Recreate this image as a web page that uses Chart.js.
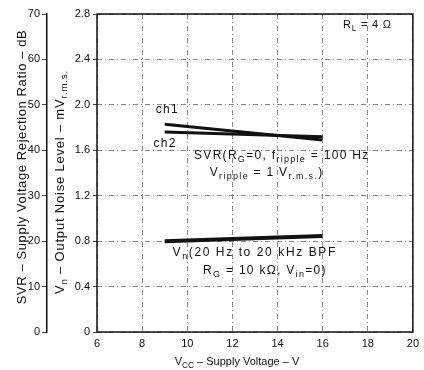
<!DOCTYPE html>
<html>
<head>
<meta charset="utf-8">
<script src="https://cdn.jsdelivr.net/npm/chart.js@4"></script>
<style>
  html, body { margin: 0; padding: 0; background: #fff; }
  #wrap { width: 424px; height: 370px; }
</style>
</head>
<body>
<div id="wrap"><canvas id="chart"></canvas></div>
<script>
// data
const vcc = [9, 16];
const ch1 = [1.83, 1.69];
const ch2 = [1.76, 1.72];
const noise = [0.80, 0.845];

const xTicks = [6, 8, 10, 12, 14, 16, 18, 20];
const noiseTicks = [0, 0.4, 0.8, 1.2, 1.6, 2.0, 2.4, 2.8];
const svrTicks = [0, 10, 20, 30, 40, 50, 60, 70];

const FONT = "'Liberation Sans', Arial, sans-serif";
const INK = "#111";

// text with subscripts: parts = [[text, isSub], ...]
function richWidth(ctx, parts, size) {
  let w = 0;
  parts.forEach(p => {
    ctx.font = (p[1] ? size * 0.75 : size) + "px " + FONT;
    w += ctx.measureText(p[0]).width;
  });
  return w;
}

function drawRich(ctx, parts, x, y, size, align, rot, ls) {
  ctx.save();
  ctx.translate(x, y);
  if (rot) ctx.rotate(rot);
  ctx.letterSpacing = (ls || 0) + "px";
  ctx.fillStyle = INK;
  ctx.textBaseline = "middle";
  ctx.textAlign = "left";
  let cx = 0;
  const w = richWidth(ctx, parts, size);
  if (align === "center") cx = -w / 2;
  parts.forEach(p => {
    const s = p[1] ? size * 0.75 : size;
    ctx.font = s + "px " + FONT;
    ctx.fillText(p[0], cx, p[1] ? size * 0.3 : 0);
    cx += ctx.measureText(p[0]).width;
  });
  ctx.restore();
}

const notes = {
  id: "notes",
  afterDraw(c) {
    const ctx = c.ctx;
    const a = c.chartArea;
    const x = c.scales.x;
    const y = c.scales.yn;

    // frame
    ctx.save();
    ctx.strokeStyle = INK;
    ctx.lineWidth = 1.5;
    ctx.strokeRect(a.left, a.top, a.right - a.left, a.bottom - a.top);
    ctx.restore();

    const at = (vx, vy) => [x.getPixelForValue(vx), y.getPixelForValue(vy)];
    const sz = 12, sp = 1.3;
    let p;
    p = at(8.6, 1.96);
    drawRich(ctx, [["ch1"]], p[0], p[1], sz, "left", 0, sp);
    p = at(8.5, 1.66);
    drawRich(ctx, [["ch2"]], p[0], p[1], sz, "left", 0, sp);
    p = at(10.3, 1.55);
    drawRich(ctx, [["SVR(R"], ["G", 1], ["=0, f"], ["ripple", 1], [" = 100 Hz"]], p[0], p[1], sz, "left", 0, sp);
    p = at(11.0, 1.40);
    drawRich(ctx, [["V"], ["ripple", 1], [" = 1 V"], ["r.m.s.", 1], [")"]], p[0], p[1], sz, "left", 0, sp);
    p = at(9.35, 0.70);
    drawRich(ctx, [["V"], ["n", 1], ["(20 Hz to 20 kHz BPF"]], p[0], p[1], sz, "left", 0, 1.6);
    p = at(10.7, 0.54);
    drawRich(ctx, [["R"], ["G", 1], [" = 10 k\u03a9, V"], ["in", 1], ["=0)"]], p[0], p[1], sz, "left", 0, sp);
    p = at(16.9, 2.70);
    drawRich(ctx, [["R"], ["L", 1], [" = 4 \u03a9"]], p[0], p[1], 11, "left", 0, 0.8);

    // axis titles
    drawRich(ctx, [["SVR \u2013 Supply Voltage Rejection Ratio \u2013 dB"]], 22, 167, 13, "center", -Math.PI / 2, 0.6);
    drawRich(ctx, [["V"], ["n", 1], [" \u2013 Output Noise Level \u2013 mV"], ["r.m.s.", 1]], 60, 182, 13, "center", -Math.PI / 2, 0.8);
    drawRich(ctx, [["V"], ["CC", 1], [" \u2013 Supply Voltage \u2013 V"]], 237, 362, 11, "center", 0, 0);
  }
};

const pts = arr => vcc.map((v, i) => ({ x: v, y: arr[i] }));

new Chart(document.getElementById("chart"), {
  type: "line",
  data: {
    datasets: [
      { label: "ch1", data: pts(ch1), borderColor: INK, borderWidth: 3, pointRadius: 0, yAxisID: "yn" },
      { label: "ch2", data: pts(ch2), borderColor: INK, borderWidth: 3, pointRadius: 0, yAxisID: "yn" },
      { label: "Vn", data: pts(noise), borderColor: INK, borderWidth: 4, pointRadius: 0, yAxisID: "yn" }
    ]
  },
  options: {
    responsive: true,
    maintainAspectRatio: false,
    animation: false,
    layout: { padding: { top: 14, right: 10, bottom: 0, left: 0 } },
    plugins: { legend: { display: false }, tooltip: { enabled: false } },
    scales: {
      x: {
        type: "linear",
        min: 6, max: 20,
        afterBuildTicks: s => { s.ticks = xTicks.map(v => ({ value: v })); },
        afterFit: s => { s.height = 38; },
        grid: { color: "#888", drawTicks: false },
        border: { display: false, dash: [5, 3, 1, 3] },
        ticks: { color: INK, font: { family: FONT, size: 11 }, padding: 5 }
      },
      ysvr: {
        position: "left",
        weight: 1,
        min: 0, max: 70,
        afterBuildTicks: s => { s.ticks = svrTicks.map(v => ({ value: v })); },
        afterFit: s => { s.width = 47; },
        grid: { drawOnChartArea: false, tickLength: 5, tickColor: "#444" },
        border: { display: true, color: INK, width: 1.5 },
        ticks: { color: INK, font: { family: FONT, size: 11 }, padding: 2 }
      },
      yn: {
        position: "left",
        weight: 0,
        min: 0, max: 2.8,
        afterBuildTicks: s => { s.ticks = noiseTicks.map(v => ({ value: v })); },
        afterFit: s => { s.width = 50; },
        grid: { color: "#888", tickLength: 4, tickColor: "#444" },
        border: { display: false, dash: [5, 3, 1, 3] },
        ticks: {
          color: INK, font: { family: FONT, size: 11 }, padding: 3,
          callback: v => v === 0 ? "0" : v.toFixed(1)
        }
      }
    }
  },
  plugins: [notes]
});
</script>
</body>
</html>
